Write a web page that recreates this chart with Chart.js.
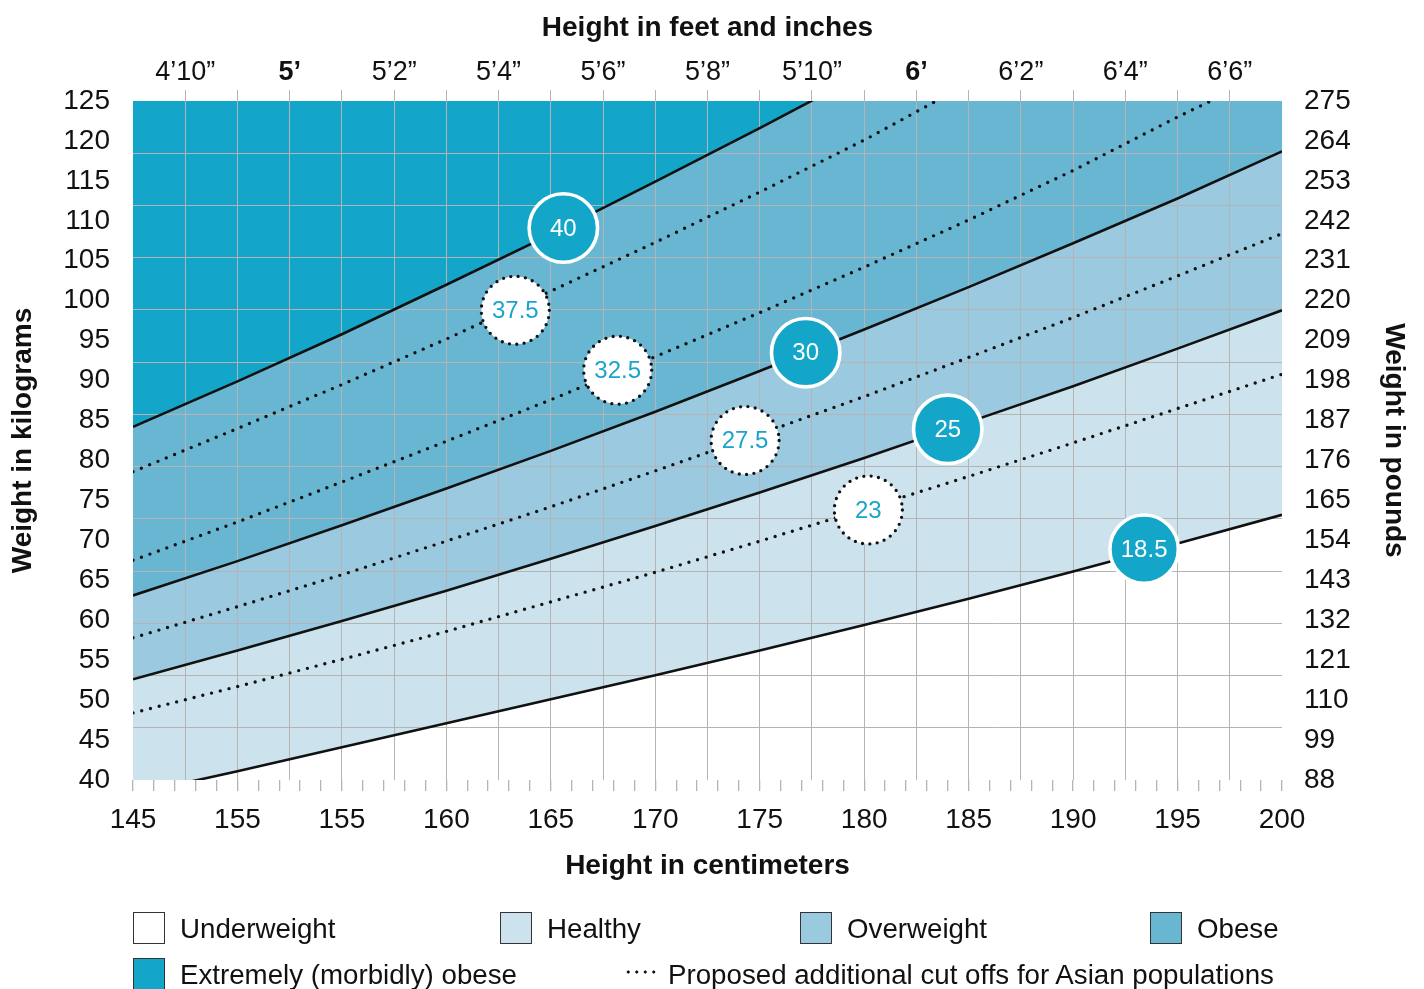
<!DOCTYPE html>
<html>
<head>
<meta charset="utf-8">
<script src="https://cdn.jsdelivr.net/npm/chart.js@4/dist/chart.umd.min.js"></script>
<style>
  html, body { margin: 0; padding: 0; background: #ffffff; }
  #wrap { position: relative; width: 1424px; height: 989px; overflow: hidden; background: #ffffff; }
  #c { position: absolute; left: 0; top: 0; }
  .lg-text { position: absolute; font-family: 'Liberation Sans', Arial, sans-serif; font-size: 27.7px; color: #111111; line-height: 32px; white-space: nowrap; }
  .lg-box { position: absolute; width: 30px; height: 30px; border: 1.6px solid #333333; }
  .lg-dots { position: absolute; width: 34px; height: 4px;
    background-image: radial-gradient(circle, #111111 1.4px, rgba(0,0,0,0) 1.8px);
    background-size: 8.5px 4px; background-repeat: repeat-x; }
</style>
</head>
<body>
<div id="wrap">
  <canvas id="c" width="1424" height="989"></canvas>
  <div id="legend"></div>
</div>
<script>
// ---------------- DATA ----------------
const heights = [145, 150, 155, 160, 165, 170, 175, 180, 185, 190, 195, 200];      // cm

// weight (kg) of each BMI boundary at the heights above
const bmi40  = [84.2, 89.9, 95.8, 102.0, 108.3, 114.9, 121.6, 128.5, 135.6, 142.9, 150.4, 158.1];
const bmi375 = [78.6, 84.0, 89.5, 95.2, 101.2, 107.3, 113.6, 120.1, 127.2, 134.2, 141.3, 148.5];
const bmi325 = [67.5, 72.3, 77.3, 82.4, 87.6, 93.0, 98.5, 104.2, 110.1, 116.3, 123.0, 129.3];
const bmi30  = [63.1, 67.4, 71.9, 76.5, 81.2, 86.1, 91.2, 96.4, 101.7, 107.2, 112.8, 118.7];
const bmi275 = [57.8, 61.7, 65.7, 69.9, 74.2, 78.7, 83.3, 88.0, 92.9, 97.9, 103.1, 108.4];
const bmi25  = [52.6, 56.2, 59.9, 63.7, 67.7, 71.8, 76.0, 80.3, 84.8, 89.3, 94.0, 98.8];
const bmi23  = [48.4, 51.7, 55.1, 58.6, 62.3, 66.0, 69.9, 73.9, 78.0, 82.2, 86.5, 90.8];
const bmi185 = [38.2, 41.1, 44.1, 47.1, 50.1, 53.1, 56.2, 59.4, 62.7, 66.1, 69.6, 73.2];

// BMI badges placed on the curves (height cm, weight kg)
const badgeBmi    = [40, 37.5, 32.5, 30, 27.5, 25, 23, 18.5];
const badgeHeight = [165.6, 163.3, 168.2, 177.2, 174.3, 184.0, 180.2, 193.4];
const badgeWeight = [109.1, 98.8, 91.3, 93.5, 82.5, 83.9, 73.8, 68.9];
const asianCutoffs = [37.5, 32.5, 27.5, 23];

// tick labels
const cmTickLabels   = ['145', '155', '155', '160', '165', '170', '175', '180', '185', '190', '195', '200'];
const feetTickLabels = ['4’10”', '5’', '5’2”', '5’4”', '5’6”', '5’8”', '5’10”', '6’', '6’2”', '6’4”', '6’6”'];
const lbTickLabels   = ['88', '99', '110', '121', '132', '143', '154', '165', '176', '187', '198', '209', '220', '231', '242', '253', '264', '275'];

// legend
const legendNames = ['Underweight', 'Healthy', 'Overweight', 'Obese', 'Extremely (morbidly) obese'];
const asianLegendText = 'Proposed additional cut offs for Asian populations';

// ---------------- STYLE ----------------
const FONT = "'Liberation Sans', Arial, sans-serif";
const INK = '#111111';
const GRID = '#b4b4b4';
const C_MORBID = '#14a6c8';
const C_OBESE = '#69b6d3';
const C_OVER = '#9bcae0';
const C_HEALTHY = '#cce2ec';
const C_UNDER = '#ffffff';
const C_BADGE_TEXT = '#1aa4cb';
const legendColors = [C_UNDER, C_HEALTHY, C_OVER, C_OBESE, C_MORBID];

const X_MIN = 145, X_MAX = 200, Y_MIN = 40, Y_MAX = 125;

function pts(arr) { return heights.map((h, i) => ({ x: h, y: arr[i] })); }

const solidStyle = { borderColor: INK, borderWidth: 2.6, pointRadius: 0, pointHoverRadius: 0, clip: 0, tension: 0 };
const dottedStyle = { borderColor: INK, borderWidth: 3.4, borderDash: [0, 9], borderCapStyle: 'round',
                      pointRadius: 0, pointHoverRadius: 0, fill: false, clip: 0, tension: 0 };

// grid positions (square grid): vertical every 2.5 cm, horizontal 13 equal divisions
const gridCm = [];
for (let v = X_MIN + 2.5; v < X_MAX - 0.01; v += 2.5) gridCm.push(+v.toFixed(2));
const gridKg = [];
for (let k = 1; k < 13; k++) gridKg.push(Y_MIN + k * (Y_MAX - Y_MIN) / 13);

// ---------------- BADGES PLUGIN ----------------
const badgePlugin = {
  id: 'bmiBadges',
  afterDraw(chart) {
    const { ctx } = chart;
    const x = chart.scales.x, y = chart.scales.y;
    ctx.save();
    badgeBmi.forEach((b, i) => {
      const px = x.getPixelForValue(badgeHeight[i]);
      const py = y.getPixelForValue(badgeWeight[i]);
      const asian = asianCutoffs.includes(b);
      ctx.beginPath();
      if (asian) {
        ctx.arc(px, py, 34, 0, Math.PI * 2);
        ctx.fillStyle = '#ffffff';
        ctx.fill();
        ctx.setLineDash([0, 7.4]);
        ctx.lineCap = 'round';
        ctx.lineWidth = 3.3;
        ctx.strokeStyle = INK;
        ctx.stroke();
        ctx.setLineDash([]);
      } else {
        ctx.arc(px, py, 34.2, 0, Math.PI * 2);
        ctx.fillStyle = C_MORBID;
        ctx.fill();
        ctx.lineWidth = 3.6;
        ctx.strokeStyle = '#ffffff';
        ctx.stroke();
      }
      ctx.fillStyle = asian ? C_BADGE_TEXT : '#ffffff';
      ctx.font = '24px ' + FONT;
      ctx.textAlign = 'center';
      ctx.textBaseline = 'middle';
      ctx.fillText(String(b), px, py + 1);
    });
    ctx.restore();
  }
};

// ---------------- CHART ----------------
const tickFont = { family: FONT, size: 28 };
const titleFont = { family: FONT, size: 28, weight: 'bold' };

new Chart(document.getElementById('c'), {
  type: 'line',
  data: {
    datasets: [
      { label: 'BMI 37.5', data: pts(bmi375), ...dottedStyle },
      { label: 'BMI 40',   data: pts(bmi40),  ...solidStyle, fill: 'end', backgroundColor: C_MORBID },
      { label: 'BMI 32.5', data: pts(bmi325), ...dottedStyle },
      { label: 'BMI 30',   data: pts(bmi30),  ...solidStyle, fill: { target: 1 }, backgroundColor: C_OBESE },
      { label: 'BMI 27.5', data: pts(bmi275), ...dottedStyle },
      { label: 'BMI 25',   data: pts(bmi25),  ...solidStyle, fill: { target: 3 }, backgroundColor: C_OVER },
      { label: 'BMI 23',   data: pts(bmi23),  ...dottedStyle },
      { label: 'BMI 18.5', data: pts(bmi185), ...solidStyle, fill: { target: 5 }, backgroundColor: C_HEALTHY }
    ]
  },
  options: {
    responsive: false,
    animation: false,
    devicePixelRatio: 1,
    events: [],
    layout: { padding: { left: 0, right: 0, top: 0, bottom: 99 } },
    plugins: {
      legend: { display: false },
      tooltip: { enabled: false },
      filler: { drawTime: 'beforeDraw', propagate: false }
    },
    scales: {
      x: {
        type: 'linear', position: 'bottom', min: X_MIN, max: X_MAX,
        ticks: {
          stepSize: 1, maxTicksLimit: 200, autoSkip: false, maxRotation: 0, minRotation: 0,
          padding: 12, color: INK, font: tickFont,
          callback: (v) => {
            const r = v - X_MIN;
            return (Math.abs(r % 5) < 1e-6) ? cmTickLabels[Math.round(r / 5)] : '';
          }
        },
        grid: { drawOnChartArea: false, drawTicks: true, tickLength: 11, color: GRID, lineWidth: 1.3 },
        border: { display: false },
        title: { display: true, text: 'Height in centimeters', color: INK, font: titleFont, padding: { top: 0, bottom: 7 } },
        afterFit: (s) => { s.height = 110; }
      },
      xTop: {
        type: 'linear', position: 'top', min: X_MIN, max: X_MAX,
        afterBuildTicks: (s) => { s.ticks = gridCm.map(v => ({ value: v })); },
        ticks: {
          autoSkip: false, maxRotation: 0, minRotation: 0, padding: 1, color: INK,
          font: (c) => ({ family: FONT, size: 27, weight: (c.tick && /’$/.test(c.tick.label)) ? 'bold' : 'normal' }),
          callback: (v) => {
            const idx = Math.round((v - (X_MIN + 2.5)) / 2.5);
            return idx % 2 === 0 ? feetTickLabels[idx / 2] : '';
          }
        },
        grid: { drawOnChartArea: true, drawTicks: true, tickLength: 11, color: GRID, lineWidth: 1 },
        border: { display: false },
        title: { display: true, text: 'Height in feet and inches', color: INK, font: titleFont, padding: { top: 11, bottom: 0 } },
        afterFit: (s) => { s.height = 101; }
      },
      y: {
        type: 'linear', position: 'left', min: Y_MIN, max: Y_MAX,
        ticks: { stepSize: 5, autoSkip: false, padding: 23, color: INK, font: tickFont },
        grid: { display: false, drawTicks: false },
        border: { display: false },
        title: { display: true, text: 'Weight in kilograms', color: INK, font: titleFont, padding: { top: 6, bottom: 0 } },
        afterFit: (s) => { s.width = 133; }
      },
      yGrid: {
        type: 'linear', position: 'left', min: Y_MIN, max: Y_MAX,
        afterBuildTicks: (s) => { s.ticks = gridKg.map(v => ({ value: v })); },
        ticks: { display: false },
        grid: { drawOnChartArea: true, drawTicks: false, color: GRID, lineWidth: 1 },
        border: { display: false },
        afterFit: (s) => { s.width = 0; }
      },
      yR: {
        type: 'linear', position: 'right', min: Y_MIN, max: Y_MAX,
        ticks: {
          stepSize: 5, autoSkip: false, padding: 22, color: INK, font: tickFont,
          callback: (v) => lbTickLabels[Math.round((v - Y_MIN) / 5)]
        },
        grid: { display: false, drawTicks: false },
        border: { display: false },
        title: { display: true, text: 'Weight in pounds', color: INK, font: titleFont, padding: { top: 13, bottom: 0 } },
        afterFit: (s) => { s.width = 142; }
      }
    }
  },
  plugins: [badgePlugin]
});

// ---------------- LEGEND (HTML) ----------------
(function buildLegend() {
  const lg = document.getElementById('legend');
  const slots = [[133, 912], [500, 912], [800, 912], [1150, 912], [133, 958]];
  legendNames.forEach((name, i) => {
    const [lx, ly] = slots[i];
    const box = document.createElement('div');
    box.className = 'lg-box';
    box.style.left = lx + 'px';
    box.style.top = ly + 'px';
    box.style.background = legendColors[i];
    lg.appendChild(box);
    const t = document.createElement('div');
    t.className = 'lg-text';
    t.style.left = (lx + 47) + 'px';
    t.style.top = (ly + 1) + 'px';
    t.textContent = name;
    lg.appendChild(t);
  });
  const dots = document.createElement('div');
  dots.className = 'lg-dots';
  dots.style.left = '624px';
  dots.style.top = '970px';
  lg.appendChild(dots);
  const t = document.createElement('div');
  t.className = 'lg-text';
  t.style.left = '668px';
  t.style.top = '959px';
  t.textContent = asianLegendText;
  lg.appendChild(t);
})();
</script>
</body>
</html>
